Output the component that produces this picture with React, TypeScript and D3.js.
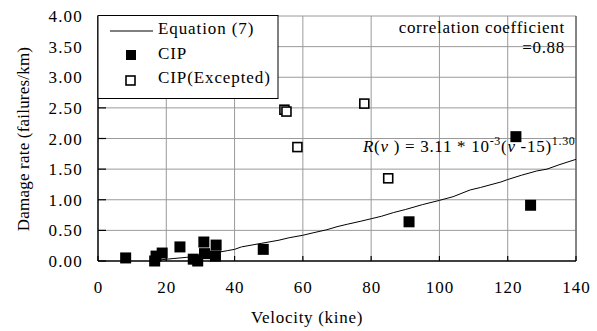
import React from 'react';
import * as d3 from 'd3';

// CIP observed points [velocity (kine), damage rate (failures/km)]
const cipPoints = [
    [8.1, 0.05], [16.6, 0.0], [17.0, 0.08], [18.8, 0.13], [24.0, 0.23],
    [27.9, 0.03], [29.2, 0.0], [31.0, 0.31], [31.2, 0.12], [34.6, 0.26],
    [34.4, 0.08], [48.4, 0.19], [91.1, 0.64], [122.4, 2.03], [126.7, 0.91],
];

const exceptedPoints = [
    [54.6, 2.47], [55.2, 2.44], [58.4, 1.86], [78.0, 2.57], [85.0, 1.35],
];

// Equation (7) curve as drawn in the figure
const equationLine = [
    [18.5, 0.02], [22, 0.04], [26, 0.06], [30, 0.09], [34, 0.13], [38, 0.17],
    [40, 0.19], [42, 0.23], [48, 0.29], [53, 0.34], [56, 0.38], [60, 0.42],
    [63, 0.46], [67, 0.51], [70, 0.56], [73, 0.6], [77, 0.65], [80, 0.69],
    [83, 0.73], [86.5, 0.79], [90, 0.84], [95, 0.92], [100, 0.99], [104, 1.05],
    [109, 1.16], [112, 1.2], [118, 1.29], [120, 1.33], [124, 1.4], [128.5, 1.47],
    [131.5, 1.5], [135, 1.57], [140, 1.66],
];

const xTicks = [0, 20, 40, 60, 80, 100, 120, 140];
const yTicks = [0, 0.5, 1, 1.5, 2, 2.5, 3, 3.5, 4];
const legendLabels = ['Equation (7)', 'CIP', 'CIP(Excepted)'];

const GRID = '#9a9a9a';
const txt = { fontFamily: '"Liberation Serif"', fontSize: 17, fill: '#000', letterSpacing: 0.7 };

export default function App() {
    const x = d3.scaleLinear().domain([0, 140]).range([98, 576]);
    const y = d3.scaleLinear().domain([0, 4]).range([261, 16]);
    const line = d3.line<number[]>().x(d => x(d[0])).y(d => y(d[1]));
    const fmt = d3.format('.2f');

    return (
        <svg width={597} height={331}
            style={{ position: 'absolute', left: 0, top: 0, background: '#fff' }}>
            {/* grid */}
            {xTicks.slice(1).map(t => (
                <line key={'gx' + t} x1={x(t)} x2={x(t)} y1={y(0)} y2={y(4)} stroke={GRID} />
            ))}
            {yTicks.slice(1).map(t => (
                <line key={'gy' + t} x1={x(0)} x2={x(140)} y1={y(t)} y2={y(t)} stroke={GRID} />
            ))}
            <line x1={x(140)} x2={x(140)} y1={y(0)} y2={y(4)} stroke="#555" strokeWidth={1.2} />

            {/* axes */}
            <line x1={x(0)} x2={x(140)} y1={y(0)} y2={y(0)} stroke="#000" strokeWidth={1.5} />
            <line x1={x(0)} x2={x(0)} y1={y(0)} y2={y(4)} stroke="#000" strokeWidth={1.5} />
            {xTicks.map(t => (
                <g key={'tx' + t}>
                    <line x1={x(t)} x2={x(t)} y1={y(0)} y2={y(0) - 5} stroke="#000" strokeWidth={1.2} />
                    <text style={{ ...txt, letterSpacing: 1 }} x={x(t) + 0.5} y={293} textAnchor="middle">{t}</text>
                </g>
            ))}
            {yTicks.map(t => (
                <g key={'ty' + t}>
                    <line x1={x(0)} x2={x(0) + 8} y1={y(t)} y2={y(t)} stroke="#000" strokeWidth={1.2} />
                    <text style={{ ...txt, letterSpacing: 1.2 }} x={83} y={y(t) + 6} textAnchor="end">{fmt(t)}</text>
                </g>
            ))}

            {/* equation curve */}
            <path d={line(equationLine) || ''} fill="none" stroke="#000" strokeWidth={1} />

            {/* points */}
            {exceptedPoints.map((d, i) => (
                <rect key={'e' + i} x={x(d[0]) - 4.5} y={y(d[1]) - 4.5} width={9} height={9}
                    fill="#fff" stroke="#000" strokeWidth={1.6} />
            ))}
            {cipPoints.map((d, i) => (
                <rect key={'c' + i} x={x(d[0]) - 5.5} y={y(d[1]) - 5.5} width={11} height={11} fill="#000" />
            ))}

            {/* legend */}
            <rect x={98} y={15.5} width={180} height={83} fill="#fff" stroke="#000" strokeWidth={1} />
            <line x1={110} x2={153} y1={31} y2={31} stroke="#000" strokeWidth={1.2} />
            <rect x={126} y={50} width={10} height={10} fill="#000" />
            <rect x={126} y={76} width={9} height={9} fill="#fff" stroke="#000" strokeWidth={1.6} />
            {legendLabels.map((l, i) => (
                <text style={{ ...txt, letterSpacing: 0.9 }} key={l} x={158} y={34 + i * 24.5}>{l}</text>
            ))}

            {/* correlation note */}
            <text style={txt} x={565} y={33} textAnchor="end">correlation coefficient</text>
            <text style={txt} x={565} y={53} textAnchor="end">=0.88</text>

            {/* equation annotation */}
            <text style={txt} x={363} y={152}>
                <tspan fontStyle="italic">R</tspan>
                <tspan>(</tspan>
                <tspan fontStyle="italic">v</tspan>
                <tspan> ) = 3.11 * 10</tspan>
                <tspan fontSize={12} dy={-7}>-3</tspan>
                <tspan dy={7}>(</tspan>
                <tspan fontStyle="italic">v</tspan>
                <tspan> -15)</tspan>
                <tspan fontSize={12} dy={-7}>1.30</tspan>
            </text>

            {/* axis titles */}
            <text style={txt} x={307} y={323} textAnchor="middle">Velocity (kine)</text>
            <text style={{ ...txt, letterSpacing: 0.2 }} transform="translate(29,139) rotate(-90)" textAnchor="middle">Damage rate (failures/km)</text>
        </svg>
    );
}
